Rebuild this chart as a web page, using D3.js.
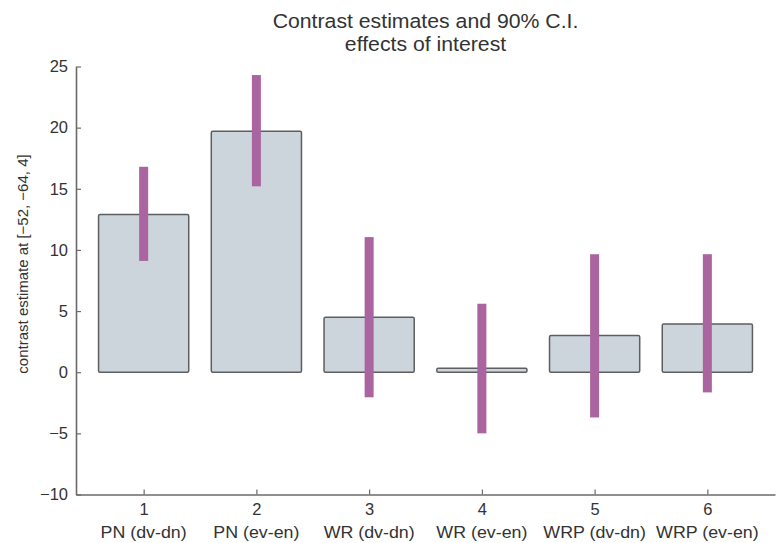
<!DOCTYPE html>
<html>
<head>
<meta charset="utf-8">
<script src="https://cdn.jsdelivr.net/npm/d3@7"></script>
<style>
  body { margin: 0; background: #fff; }
  text { font-family: "Liberation Sans", Arial, sans-serif; fill: #333; }
</style>
</head>
<body>
<div id="chart"></div>
<script>
// data
var positions = [1, 2, 3, 4, 5, 6];
var categories = ["PN (dv-dn)", "PN (ev-en)", "WR (dv-dn)", "WR (ev-en)", "WRP (dv-dn)", "WRP (ev-en)"];
var estimates = [12.9, 19.7, 4.5, 0.33, 3.0, 3.95];
var ciLow = [9.1, 15.2, -2.05, -5.0, -3.7, -1.65];
var ciHigh = [16.8, 24.3, 11.05, 5.6, 9.65, 9.65];
var yTicks = [-10, -5, 0, 5, 10, 15, 20, 25];

var width = 780, height = 543;

var svg = d3.select("#chart")
  .append("svg")
  .attr("width", width)
  .attr("height", height);

var x = d3.scaleLinear()
  .domain([0.4, 6.6])
  .range([76, 775]);

var y = d3.scaleLinear()
  .domain([-10, 25])
  .range([494.5, 66.5]);

var data = positions.map(function(p, i){
  return {pos: p, cat: categories[i], est: estimates[i], lo: ciLow[i], hi: ciHigh[i]};
});

// bars
svg.append("g")
  .selectAll("rect")
  .data(data)
  .join("rect")
    .attr("x", d => x(d.pos - 0.4))
    .attr("width", d => x(d.pos + 0.4) - x(d.pos - 0.4))
    .attr("y", d => y(Math.max(d.est, 0)))
    .attr("height", d => Math.abs(y(d.est) - y(0)))
    .attr("rx", 1.5)
    .attr("fill", "#cdd5dc")
    .attr("stroke", "#5e5e5e")
    .attr("stroke-width", 1.5);

// confidence intervals
svg.append("g")
  .selectAll("rect")
  .data(data)
  .join("rect")
    .attr("x", d => x(d.pos - 0.04))
    .attr("width", d => x(d.pos + 0.04) - x(d.pos - 0.04))
    .attr("y", d => y(d.hi))
    .attr("height", d => y(d.lo) - y(d.hi))
    .attr("fill", "#aa65a0");

// y axis
var yAxis = svg.append("g")
  .attr("transform", "translate(76,0)")
  .call(d3.axisLeft(y).tickValues(yTicks).tickFormat(d3.format("d"))
    .tickSizeInner(-5).tickSizeOuter(0).tickPadding(8));

// x axis
var xAxis = svg.append("g")
  .attr("transform", "translate(0,494.5)")
  .call(d3.axisBottom(x).tickValues(positions).tickFormat(d3.format("d"))
    .tickSizeInner(-5).tickSizeOuter(0).tickPadding(9));

[yAxis, xAxis].forEach(function(a){
  a.attr("font-size", null).attr("font-family", null);
  a.select(".domain").attr("stroke", "#6a6a6a").attr("stroke-width", 1.6);
  a.selectAll(".tick line").attr("stroke", "#6a6a6a").attr("stroke-width", 1.2);
  a.selectAll(".tick text").style("font-size", "16.5px").attr("fill", "#333");
});

// category labels under the numbers (source text is a bit wide)
svg.append("g")
  .selectAll("text")
  .data(data)
  .join("text")
    .attr("transform", d => "translate(" + x(d.pos) + ",538) scale(1.08,1)")
    .attr("text-anchor", "middle")
    .style("font-size", "16.5px")
    .text(d => d.cat);

// title
svg.append("text")
  .attr("transform", "translate(425.5,27.5) scale(1.09,1)")
  .attr("text-anchor", "middle")
  .style("font-size", "19.5px")
  .text("Contrast estimates and 90% C.I.");
svg.append("text")
  .attr("transform", "translate(425.5,51) scale(1.09,1)")
  .attr("text-anchor", "middle")
  .style("font-size", "19.5px")
  .text("effects of interest");

// y label
svg.append("text")
  .attr("transform", "translate(28,264) rotate(-90)")
  .attr("text-anchor", "middle")
  .style("font-size", "15px")
  .text("contrast estimate at [\u221252, \u221264, 4]");
</script>
</body>
</html>
